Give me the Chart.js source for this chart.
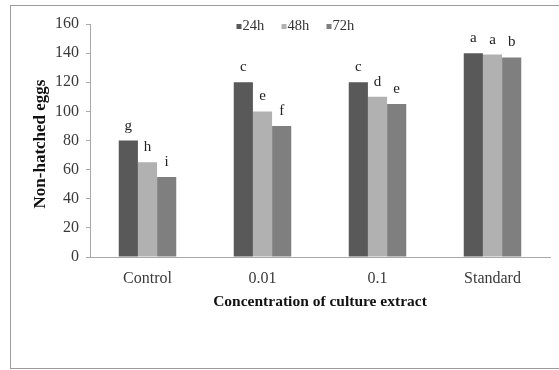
<!DOCTYPE html>
<html><head><meta charset="utf-8">
<script src="https://cdn.jsdelivr.net/npm/chart.js@4.4.1/dist/chart.umd.min.js"></script>
<style>
html,body{margin:0;padding:0;background:#fff;}
#wrap{position:relative;width:559px;height:370px;overflow:hidden;background:#fff;}
#frame{position:absolute;left:10px;top:5px;width:560px;height:364px;border:1px solid #9c9c9c;box-sizing:border-box;}
canvas{position:absolute;left:0;top:0;}
</style></head><body>
<div id="wrap"><div id="frame"></div><canvas id="c" width="559" height="370"></canvas></div>
<script>
const categories = ['Control', '0.01', '0.1', 'Standard'];
const seriesNames = ['24h', '48h', '72h'];
const values24h = [80, 120, 120, 140];
const values48h = [65, 100, 110, 139];
const values72h = [55, 90, 105, 137];
const letters24h = ['g', 'c', 'c', 'a'];
const letters48h = ['h', 'e', 'd', 'a'];
const letters72h = ['i', 'f', 'e', 'b'];
const yMin = 0, yMax = 160, yStep = 20;
const xTitle = 'Concentration of culture extract';
const yTitle = 'Non-hatched eggs';
const barColors = ['#595959', '#b1b1b1', '#7f7f7f'];

const SERIF = '"Liberation Serif", "Times New Roman", serif';
const seriesValues = [values24h, values48h, values72h];
const seriesLetters = [letters24h, letters48h, letters72h];

const extras = {
  id: 'extras',
  afterDatasetsDraw(chart) {
    const ctx = chart.ctx;
    const area = chart.chartArea;
    ctx.save();
    // significance letters
    ctx.fillStyle = '#222';
    ctx.font = '15px ' + SERIF;
    ctx.textAlign = 'center';
    ctx.textBaseline = 'alphabetic';
    chart.data.datasets.forEach((ds, di) => {
      const meta = chart.getDatasetMeta(di);
      meta.data.forEach((bar, i) => {
        ctx.fillText(seriesLetters[di][i], bar.x, bar.y - 11);
      });
    });
    // legend
    ctx.font = '14.5px ' + SERIF;
    ctx.textAlign = 'left';
    ctx.textBaseline = 'middle';
    let lx = 236.5;
    chart.data.datasets.forEach((ds, di) => {
      ctx.fillStyle = ds.backgroundColor;
      ctx.fillRect(lx, 24, 5, 5);
      ctx.fillStyle = '#333';
      ctx.fillText(ds.label, lx + 6, 26.5);
      lx += 45;
    });
    // axis titles
    ctx.fillStyle = '#111';
    ctx.font = 'bold 15.5px ' + SERIF;
    ctx.textAlign = 'center';
    ctx.textBaseline = 'middle';
    ctx.fillText(xTitle, (area.left + area.right) / 2, 302);
    ctx.translate(41, 144);
    ctx.rotate(-Math.PI / 2);
    ctx.font = 'bold 17px ' + SERIF;
    ctx.fillText(yTitle, 0, 0);
    ctx.restore();
  }
};

new Chart(document.getElementById('c'), {
  type: 'bar',
  data: {
    labels: categories,
    datasets: seriesNames.map((n, i) => ({
      label: n,
      data: seriesValues[i],
      backgroundColor: barColors[i],
      borderWidth: 0,
      categoryPercentage: 0.5,
      barPercentage: 1.0
    }))
  },
  options: {
    responsive: false,
    devicePixelRatio: 1,
    animation: false,
    layout: { padding: { top: 24, right: 9, bottom: 0, left: 0 } },
    plugins: { legend: { display: false }, tooltip: { enabled: false } },
    scales: {
      x: {
        grid: { display: false, drawTicks: false },
        border: { display: true, color: '#a8a8a8', width: 1 },
        ticks: { font: { family: SERIF, size: 16 }, color: '#3a3a3a', padding: 12 },
        afterFit(scale) { scale.height = 113; }
      },
      y: {
        min: yMin, max: yMax,
        ticks: { stepSize: yStep, font: { family: SERIF, size: 16 }, color: '#3a3a3a', padding: 7 },
        grid: { display: true, drawOnChartArea: false, drawTicks: true, tickLength: 4, color: '#a8a8a8' },
        border: { display: true, color: '#a8a8a8', width: 1 },
        afterFit(scale) { scale.width = 90; }
      }
    }
  },
  plugins: [extras]
});
</script>
</body></html>
